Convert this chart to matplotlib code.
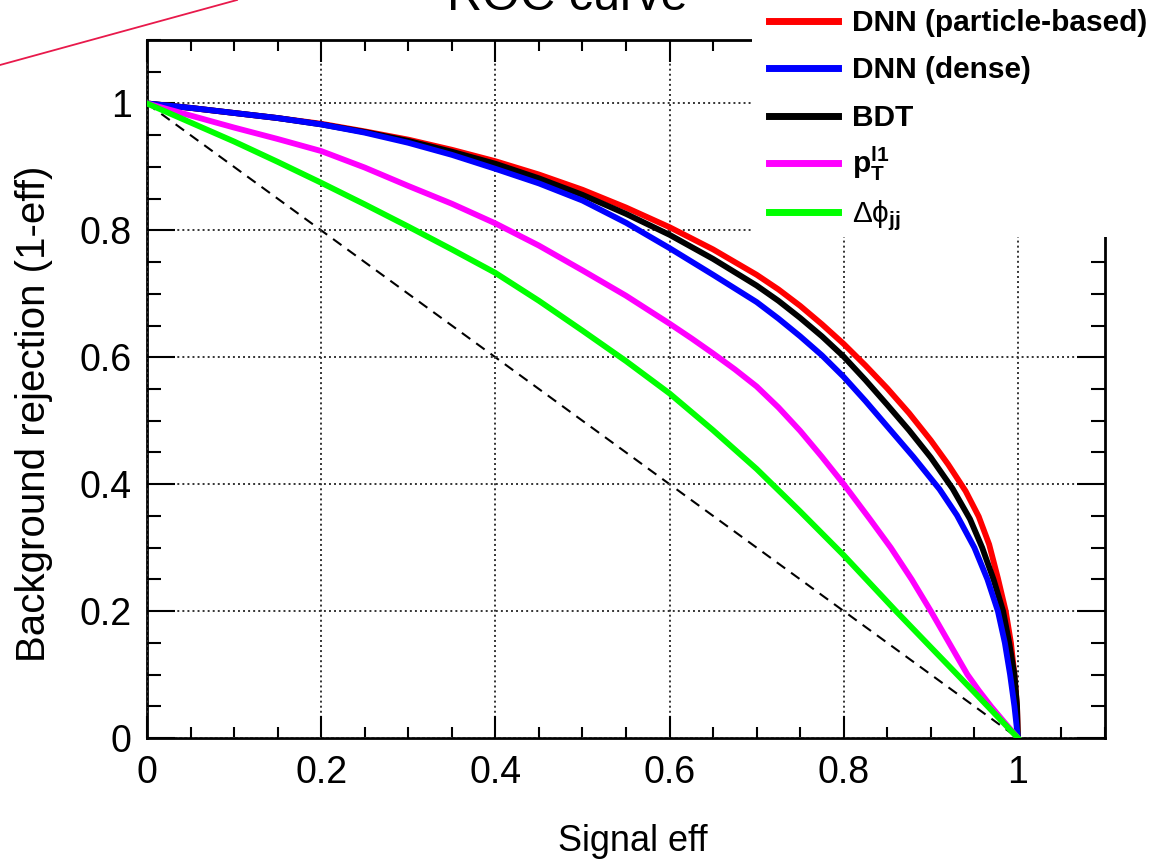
import matplotlib
matplotlib.use("Agg")
import matplotlib.pyplot as plt
from matplotlib.lines import Line2D
from matplotlib.patches import Rectangle
from matplotlib.ticker import MultipleLocator

# ---------------- data ----------------
red_x = [0, 0.05, 0.1, 0.15, 0.2, 0.25, 0.3, 0.35, 0.4, 0.45, 0.5, 0.55, 0.6, 0.65, 0.7, 0.725, 0.75, 0.775,
         0.8, 0.825, 0.85, 0.875, 0.9, 0.92, 0.94, 0.955, 0.967, 0.977, 0.986, 0.992, 0.996, 0.999, 1.0]
red_y = [1.0, 0.993, 0.985, 0.977, 0.968, 0.956, 0.943, 0.927, 0.909, 0.888, 0.864, 0.836, 0.805, 0.770, 0.730, 0.707, 0.681, 0.652,
         0.621, 0.587, 0.551, 0.512, 0.469, 0.431, 0.389, 0.349, 0.305, 0.252, 0.200, 0.150, 0.100, 0.050, 0.0]

black_x = [0, 0.05, 0.1, 0.15, 0.2, 0.25, 0.3, 0.35, 0.4, 0.45, 0.5, 0.55, 0.6, 0.65, 0.7, 0.725, 0.75, 0.775,
           0.8, 0.825, 0.85, 0.875, 0.9, 0.925, 0.945, 0.959, 0.972, 0.983, 0.990, 0.996, 0.999, 1.0]
black_y = [1.0, 0.993, 0.985, 0.977, 0.967, 0.955, 0.941, 0.924, 0.905, 0.882, 0.856, 0.826, 0.793, 0.755, 0.713, 0.689, 0.662, 0.633,
           0.601, 0.564, 0.525, 0.485, 0.442, 0.393, 0.345, 0.300, 0.250, 0.200, 0.150, 0.100, 0.050, 0.0]

blue_x = [0, 0.05, 0.1, 0.15, 0.2, 0.25, 0.3, 0.35, 0.4, 0.45, 0.5, 0.55, 0.6, 0.65, 0.7, 0.725, 0.75, 0.775,
          0.8, 0.825, 0.85, 0.88, 0.91, 0.93, 0.95, 0.965, 0.977, 0.985, 0.991, 0.996, 1.0]
blue_y = [1.0, 0.993, 0.985, 0.977, 0.967, 0.954, 0.938, 0.919, 0.897, 0.874, 0.847, 0.812, 0.772, 0.730, 0.687, 0.661, 0.633, 0.603,
          0.569, 0.531, 0.491, 0.443, 0.392, 0.351, 0.300, 0.250, 0.200, 0.150, 0.100, 0.050, 0.0]

mag_x = [0, 0.05, 0.1, 0.15, 0.2, 0.25, 0.3, 0.35, 0.4, 0.45, 0.5, 0.55, 0.6, 0.625, 0.65, 0.675, 0.7, 0.725, 0.75, 0.775,
         0.8, 0.83, 0.854, 0.878, 0.9, 0.921, 0.942, 0.955, 0.969, 0.985, 1.0]
mag_y = [1.0, 0.981, 0.962, 0.944, 0.925, 0.899, 0.870, 0.842, 0.811, 0.776, 0.737, 0.697, 0.653, 0.630, 0.606, 0.581, 0.554, 0.521, 0.484, 0.443,
         0.400, 0.345, 0.300, 0.250, 0.200, 0.150, 0.100, 0.075, 0.050, 0.024, 0.0]

green_x = [0, 0.05, 0.1, 0.15, 0.2, 0.25, 0.3, 0.35, 0.4, 0.45, 0.5, 0.55, 0.6, 0.65, 0.7, 0.75,
           0.8, 0.86, 0.9, 0.95, 1.0]
green_y = [1.0, 0.970, 0.940, 0.908, 0.875, 0.841, 0.806, 0.770, 0.733, 0.689, 0.642, 0.594, 0.543, 0.485, 0.424, 0.357,
           0.288, 0.200, 0.143, 0.072, 0.0]

diag_x = [0, 1]
diag_y = [1, 0]

labels = ["DNN (particle-based)", "DNN (dense)", "BDT",
          r"$\mathbf{p}_{\mathbf{T}}^{\mathbf{l1}}$", "\u0394\u03d5$_{\\mathbf{jj}}$"]
label_weights = ["bold", "bold", "bold", "bold", "normal"]
colors = ["#ff0000", "#0000ff", "#000000", "#ff00ff", "#00ff00"]
xticks = [0, 0.2, 0.4, 0.6, 0.8, 1.0]
xticklabels = ["0", "0.2", "0.4", "0.6", "0.8", "1"]
yticks = [0, 0.2, 0.4, 0.6, 0.8, 1.0]
yticklabels = ["0", "0.2", "0.4", "0.6", "0.8", "1"]

# ---------------- style ----------------
plt.rcParams['font.family'] = ['Liberation Sans', 'DejaVu Sans']
plt.rcParams['mathtext.fontset'] = 'custom'
plt.rcParams['mathtext.rm'] = 'Liberation Sans'
plt.rcParams['mathtext.it'] = 'Liberation Sans:italic'
plt.rcParams['mathtext.bf'] = 'Liberation Sans:bold'

W, H = 1165, 865
fig = plt.figure(figsize=(W / 100, H / 100), dpi=100)
ax = fig.add_axes([147 / W, 1 - 738 / H, (1105 - 147) / W, (738 - 40) / H])

ax.plot(diag_x, diag_y, color='black', lw=1.5, ls=(0, (5, 3.5)), zorder=2)
ax.plot(red_x, red_y, color=colors[0], lw=4.2, zorder=3)
ax.plot(black_x, black_y, color=colors[2], lw=4.2, zorder=3)
ax.plot(blue_x, blue_y, color=colors[1], lw=4.2, zorder=3)
ax.plot(mag_x, mag_y, color=colors[3], lw=4.2, zorder=3)
ax.plot(green_x, green_y, color=colors[4], lw=4.2, zorder=3)

ax.set_xlim(0, 1.1)
ax.set_ylim(0, 1.1)
ax.set_xticks(xticks)
ax.set_xticklabels(xticklabels)
ax.set_yticks(yticks)
ax.set_yticklabels(yticklabels)
ax.xaxis.set_minor_locator(MultipleLocator(0.05))
ax.yaxis.set_minor_locator(MultipleLocator(0.05))
ax.tick_params(which='both', direction='in', top=True, right=True, width=1.5, colors='black')
ax.tick_params(axis='x', which='major', length=16, labelsize=27, pad=12)
ax.tick_params(axis='x', which='minor', length=8)
ax.tick_params(axis='y', which='major', length=20, labelsize=27, pad=11)
ax.tick_params(axis='y', which='minor', length=10)
ax.grid(True, which='major', color='#333333', ls=(0, (1, 1.6)), lw=1.4)
ax.set_axisbelow(False)
for s in ax.spines.values():
    s.set_linewidth(2.0)

# axis titles
fig.text(633 / W, 1 - 851 / H, "Signal eff", fontsize=26, ha='center', va='baseline')
fig.text(45 / W, 1 - 414 / H, "Background rejection (1-eff)", fontsize=29,
         rotation=90, rotation_mode='anchor', ha='center', va='baseline')

# cut-off slide title
fig.text(567 / W, 1 - 10 / H, "ROC curve", fontsize=35, ha='center', va='baseline')

# slide decoration line
fig.add_artist(Line2D([0, 237 / W], [1 - 65 / H, 1], transform=fig.transFigure,
                      color='#e8194b', lw=1.3))

# legend box
fig.add_artist(Rectangle((752 / W, 1 - 237 / H), (W - 752) / W, 237 / H,
                         transform=fig.transFigure, facecolor='white',
                         edgecolor='none', zorder=4))
line_ys = [21, 68, 116, 163, 212]
for lab, col, wt, ly in zip(labels, colors, label_weights, line_ys):
    fig.add_artist(Line2D([769 / W, 838 / W], [1 - ly / H, 1 - ly / H],
                          transform=fig.transFigure, color=col, lw=5, zorder=5))
    fig.text(852 / W, 1 - (ly + 10) / H, lab, fontsize=21.5, fontweight=wt,
             ha='left', va='baseline', zorder=6)

fig.savefig("out.png", dpi=100)
